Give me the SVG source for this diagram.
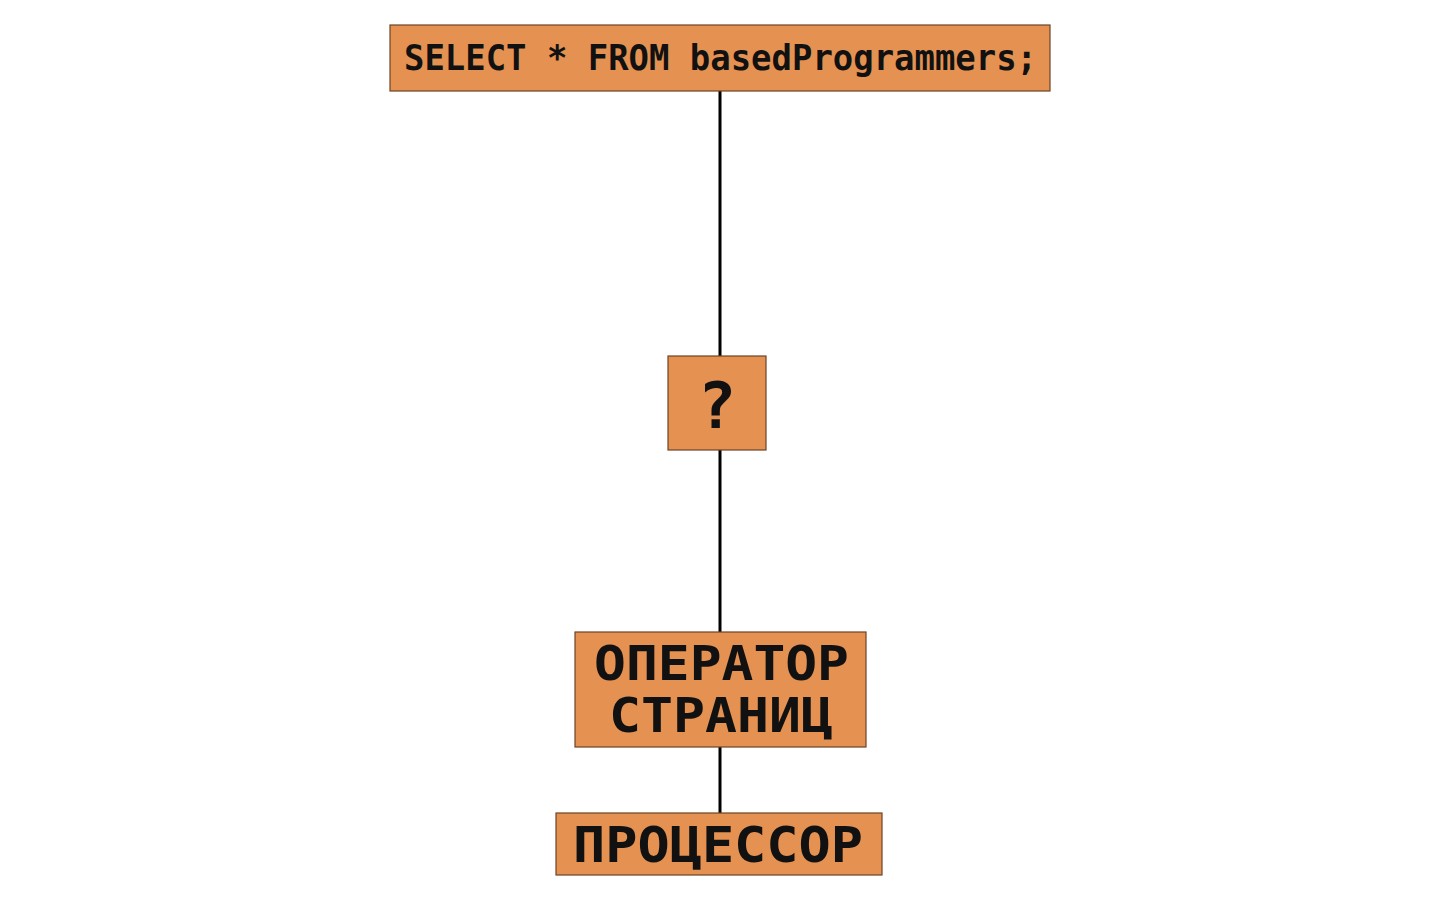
<svg xmlns="http://www.w3.org/2000/svg" width="1440" height="900" viewBox="0 0 1440 900">
<style>
.box{fill:#E59152;stroke:#6b4426;stroke-width:1.2}
.t{font-family:"DejaVu Sans Mono","Liberation Mono",monospace;font-weight:bold;fill:#111}
.edge{stroke:#000;stroke-width:3;fill:none}
</style>
<rect width="1440" height="900" fill="#fff"/>
<g id="connectors">
<line class="edge" x1="720" y1="91" x2="720" y2="356"/>
<line class="edge" x1="720" y1="450" x2="720" y2="632"/>
<line class="edge" x1="720" y1="747" x2="720" y2="813"/>
</g>
<g id="query">
<rect class="box" x="390" y="25" width="660" height="66"/>
<text class="t" x="404" y="70" font-size="35" textLength="633" lengthAdjust="spacingAndGlyphs">SELECT * FROM basedProgrammers;</text>
</g>
<g id="unknown">
<rect class="box" x="668" y="356" width="98" height="94"/>
<text class="t" x="717" y="428" font-size="64" text-anchor="middle">?</text>
</g>
<g id="pager">
<rect class="box" x="575" y="632" width="291" height="115"/>
<text class="t" x="594" y="680" font-size="48" textLength="255" lengthAdjust="spacingAndGlyphs">ОПЕРАТОР</text>
<text class="t" x="609" y="732" font-size="48" textLength="224" lengthAdjust="spacingAndGlyphs">СТРАНИЦ</text>
</g>
<g id="cpu">
<rect class="box" x="556" y="813" width="326" height="62"/>
<text class="t" x="573" y="862" font-size="50" textLength="290" lengthAdjust="spacingAndGlyphs">ПРОЦЕССОР</text>
</g>
</svg>
